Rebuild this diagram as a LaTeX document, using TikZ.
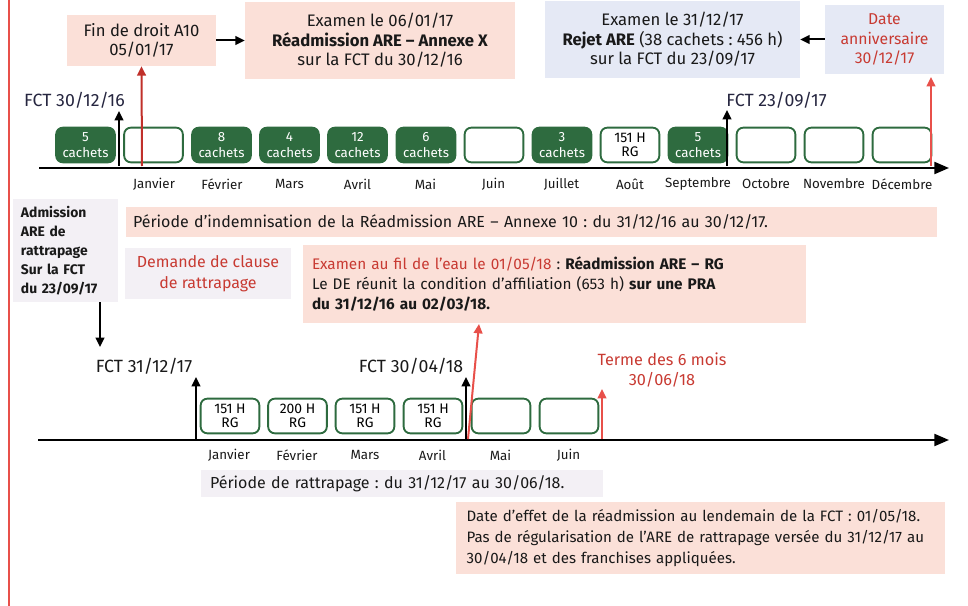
\documentclass[tikz,border=0pt]{standalone}
\usepackage{fontspec}
\setmainfont{Fira Sans}
\usetikzlibrary{arrows.meta}
\definecolor{dkgreen}{HTML}{2E6B3F}
\definecolor{salmon}{HTML}{FBE0D8}
\definecolor{lavblue}{HTML}{E5E9F5}
\definecolor{lavpale}{HTML}{F3F0F5}
\definecolor{txtred}{HTML}{C83A32}
\definecolor{arrdark}{HTML}{C0302A}
\definecolor{arrlight}{HTML}{E8504A}
\definecolor{navy}{HTML}{262640}
\frenchspacing
\begin{document}
\begin{tikzpicture}[x=0.75pt,y=-0.75pt,
  font=\fontsize{12.5}{14.6}\selectfont,
  infobox/.style={inner sep=0pt, align=center, text=black!90},
  leftbox/.style={inner ysep=0pt, align=left, text=black!90},
  fullbox/.style={draw=dkgreen, fill=dkgreen, rounded corners=5pt, line width=1.4pt,
    minimum width=44pt, minimum height=26pt, inner sep=0pt, text=white, align=center,
    font=\fontsize{10}{11.5}\selectfont},
  emptybox/.style={draw=dkgreen, fill=white, rounded corners=5pt, line width=1.4pt,
    minimum width=44pt, minimum height=26pt, inner sep=0pt, text=black, align=center,
    font=\fontsize{10.4}{10.6}\selectfont},
  monthlbl/.style={font=\fontsize{10}{12}\selectfont, text=black!90},
  fctlbl/.style={font=\fontsize{13.3}{14}\selectfont, text=navy},
  blackarr/.style={line width=1.5pt, -{Triangle[length=7pt,width=6.5pt]}},
  redarr/.style={line width=1.5pt, draw=arrlight, -{Triangle[length=7pt,width=6.5pt]}, color=arrlight},
  axisarr/.style={line width=1.6pt, -{Triangle[length=11pt,width=9pt]}}
]
\useasboundingbox (0,0) rectangle (968,606);

% left red margin line
\coordinate (mtop) at (9,0);
\coordinate (mbot) at (9,606);
\draw[arrlight, line width=1.9pt] (mtop) -- (mbot);

% ---------- top boxes ----------
\node[infobox, fill=salmon, minimum width=111.75pt, minimum height=38.25pt] (fin) at (141.5,40.5)
  {Fin de droit A10\\05/01/17};
\node[infobox, fill=salmon, minimum width=202.5pt, minimum height=57.75pt] (exam1) at (380,40.5)
  {Examen le 06/01/17\\\textbf{Réadmission ARE – Annexe X}\\sur la FCT du 30/12/16};
\node[infobox, fill=lavblue, minimum width=191.25pt, minimum height=57.75pt] (rejet) at (672.5,39.5)
  {Examen le 31/12/17\\\textbf{Rejet ARE} (38 cachets : 456 h)\\sur la FCT du 23/09/17};
\node[infobox, fill=lavblue, minimum width=89.25pt, minimum height=51.75pt, text=txtred,
  font=\fontsize{11.8}{14.6}\selectfont] (anniv) at (884.5,39.5)
  {Date\\anniversaire\\30/12/17};

\draw[blackarr] (fin.east) -- (exam1.west);
\draw[blackarr] (anniv.west) -- (rejet.east);

% ---------- first timeline ----------
\coordinate (ax1s) at (39,168);
\coordinate (ax1e) at (949,168);
\draw[axisarr] (ax1s) -- (ax1e);

\node[fullbox]  (m1)  at (85.5,145)  {5\\cachets};
\node[emptybox] (m2)  at (153.5,145) {};
\node[fullbox]  (m3)  at (221.5,145) {8\\cachets};
\node[fullbox]  (m4)  at (289.5,145) {4\\cachets};
\node[fullbox]  (m5)  at (357.5,145) {12\\cachets};
\node[fullbox]  (m6)  at (426,145)   {6\\cachets};
\node[emptybox] (m7)  at (494,145)   {};
\node[fullbox]  (m8)  at (562,145)   {3\\cachets};
\node[emptybox] (m9)  at (630,145)   {151 H\\RG};
\node[fullbox]  (m10) at (698,145)   {5\\cachets};
\node[emptybox] (m11) at (766,145)   {};
\node[emptybox] (m12) at (834,145)   {};
\node[emptybox] (m13) at (902,145)   {};

\node[monthlbl] (l1)  at (154,184) {Janvier};
\node[monthlbl] (l2)  at (222,184) {Février};
\node[monthlbl] (l3)  at (289.5,184) {Mars};
\node[monthlbl] (l4)  at (357.5,184) {Avril};
\node[monthlbl] (l5)  at (425.5,184) {Mai};
\node[monthlbl] (l6)  at (493.5,184) {Juin};
\node[monthlbl] (l7)  at (561.5,184) {Juillet};
\node[monthlbl] (l8)  at (630,184) {Août};
\node[monthlbl] (l9)  at (698,184) {Septembre};
\node[monthlbl] (l10) at (766,184) {Octobre};
\node[monthlbl] (l11) at (834,184) {Novembre};
\node[monthlbl] (l12) at (902,184) {Décembre};

\node[fctlbl] (fct1) at (74.5,100) {FCT 30/12/16};
\node[fctlbl] (fct2) at (776.5,100) {FCT 23/09/17};

\coordinate (f1b) at (119,166);
\coordinate (f1t) at (119,111);
\draw[blackarr] (f1b) -- (f1t);
\coordinate (f2b) at (727,166);
\coordinate (f2t) at (727,110);
\draw[blackarr] (f2b) -- (f2t);

\coordinate (r1b) at (142,166);
\draw[line width=1.5pt, draw=arrdark, -{Triangle[length=7pt,width=6.5pt]}, color=arrdark] (r1b) -- (fin.south);
\coordinate (r2b) at (931,166);
\coordinate (r2t) at (931,77);
\draw[redarr] (r2b) -- (r2t);

% ---------- middle boxes ----------
\node[leftbox, fill=salmon, inner xsep=5.25pt, text width=597.75pt, minimum height=22.5pt,
  font=\fontsize{12}{14}\selectfont] (periode) at (531.5,222)
  {Période d’indemnisation de la Réadmission ARE – Annexe 10 : du 31/12/16 au 30/12/17.};
\node[leftbox, fill=lavpale, inner xsep=6pt, text width=66.75pt, minimum height=77.25pt,
  font=\bfseries\fontsize{10.4}{14.2}\selectfont] (adm) at (65.5,250.5)
  {Admission\\ARE de\\rattrapage\\Sur la FCT\\du 23/09/17};
\node[infobox, fill=lavpale, text=txtred, minimum width=124.5pt, minimum height=38.25pt,
  font=\fontsize{12}{15.5}\selectfont] (dem) at (208,273.5)
  {Demande de clause\\de rattrapage};
\node[leftbox, fill=salmon, inner xsep=6.75pt, text width=363.75pt, minimum height=58.5pt,
  font=\fontsize{11.5}{15.2}\selectfont] (fil) at (554.5,284)
  {\textcolor{txtred}{Examen au fil de l’eau le 01/05/18} : \textbf{Réadmission ARE – RG}\\
   Le DE réunit la condition d’affiliation (653 h) \textbf{sur une PRA}\\
   \textbf{du 31/12/16 au 02/03/18.}};

\coordinate (admb) at (100,302);
\coordinate (admt) at (100,347);
\draw[blackarr] (admb) -- (admt);

% ---------- second timeline ----------
\coordinate (ax2s) at (38,440);
\coordinate (ax2e) at (949,440);
\draw[axisarr] (ax2s) -- (ax2e);

\node[emptybox] (n1) at (230,416) {151 H\\RG};
\node[emptybox] (n2) at (297.5,416) {200 H\\RG};
\node[emptybox] (n3) at (365,416) {151 H\\RG};
\node[emptybox] (n4) at (433,416) {151 H\\RG};
\node[emptybox] (n5) at (501,416) {};
\node[emptybox] (n6) at (569,416) {};

\node[monthlbl] (k1) at (229,455) {Janvier};
\node[monthlbl] (k2) at (297,455) {Février};
\node[monthlbl] (k3) at (365,455) {Mars};
\node[monthlbl] (k4) at (432.5,455) {Avril};
\node[monthlbl] (k5) at (500.5,455) {Mai};
\node[monthlbl] (k6) at (568.5,455) {Juin};

\node[fctlbl, text=black!90] (fct3) at (144,366) {FCT 31/12/17};
\node[fctlbl, text=black!90] (fct4) at (411,366) {FCT 30/04/18};
\node[infobox, text=txtred, font=\fontsize{12.2}{15.5}\selectfont] (terme) at (662,370)
  {Terme des 6 mois\\30/06/18};

\coordinate (g1b) at (196,439);
\coordinate (g1t) at (196,377);
\draw[blackarr] (g1b) -- (g1t);
\coordinate (g2b) at (466,439);
\coordinate (g2t) at (466,377);
\draw[blackarr] (g2b) -- (g2t);
\coordinate (g3b) at (468,439);
\coordinate (g3t) at (479,324);
\draw[redarr] (g3b) -- (g3t);
\coordinate (g4b) at (602,439);
\coordinate (g4t) at (602,389);
\draw[redarr] (g4b) -- (g4t);

% ---------- bottom boxes ----------
\node[leftbox, fill=lavpale, inner xsep=6.75pt, text width=288pt, minimum height=20.25pt,
  font=\fontsize{12}{14}\selectfont] (ratt) at (402,483.5)
  {Période de rattrapage : du 31/12/17 au 30/06/18.};
\node[leftbox, fill=salmon, inner xsep=8pt, text width=350.75pt, minimum height=54pt,
  font=\fontsize{11.3}{16}\selectfont] (effet) at (700.5,538)
  {Date d’effet de la réadmission au lendemain de la FCT : 01/05/18.\\
   Pas de régularisation de l’ARE de rattrapage versée du 31/12/17 au\\
   30/04/18 et des franchises appliquées.};
\end{tikzpicture}
\end{document}
